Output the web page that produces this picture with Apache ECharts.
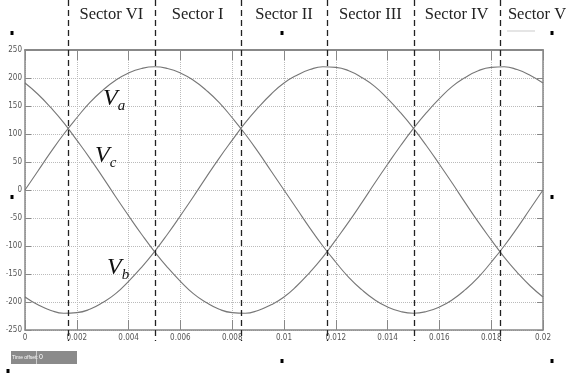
<!DOCTYPE html>
<html>
<head>
<meta charset="utf-8">
<script src="https://cdn.jsdelivr.net/npm/echarts@6/dist/echarts.min.js"></script>
<style>
  html, body { margin: 0; padding: 0; background: #fff; }
  #chart { width: 569px; height: 373px; }
</style>
</head>
<body>
<div id="chart"></div>
<script>
// Sample times (s) over one 50 Hz period
const times = [0, 0.0005, 0.001, 0.0015, 0.002, 0.0025, 0.003, 0.0035, 0.004, 0.0045,
  0.005, 0.0055, 0.006, 0.0065, 0.007, 0.0075, 0.008, 0.0085, 0.009, 0.0095,
  0.01, 0.0105, 0.011, 0.0115, 0.012, 0.0125, 0.013, 0.0135, 0.014, 0.0145,
  0.015, 0.0155, 0.016, 0.0165, 0.017, 0.0175, 0.018, 0.0185, 0.019, 0.0195, 0.02];

// Phase voltages (V)
const va = [0, 34, 68, 100, 129, 156, 178, 196, 209, 217, 220, 217, 209, 196, 178, 156, 129, 100, 68, 34,
  0, -34, -68, -100, -129, -156, -178, -196, -209, -217, -220, -217, -209, -196, -178, -156, -129, -100, -68, -34, 0];
const vb = [-191, -205, -215, -220, -219, -213, -201, -185, -163, -138, -110, -79, -46, -12, 23, 57, 89, 120, 147, 171,
  191, 205, 215, 220, 219, 213, 201, 185, 163, 138, 110, 79, 46, 12, -23, -57, -89, -120, -147, -171, -191];
const vc = [191, 171, 147, 120, 89, 57, 23, -12, -46, -79, -110, -138, -163, -185, -201, -213, -219, -220, -215, -205,
  -191, -171, -147, -120, -89, -57, -23, 12, 46, 79, 110, 138, 163, 185, 201, 213, 219, 220, 215, 205, 191];

// Sector boundaries (s) and names
const sectorBounds = [0.001667, 0.005, 0.008333, 0.011667, 0.015, 0.018333];
const sectorNames = ['Sector VI', 'Sector I', 'Sector II', 'Sector III', 'Sector IV', 'Sector V'];

const toPairs = (ys) => times.map((t, i) => [t, ys[i]]);

const chart = echarts.init(document.getElementById('chart'));
const tickFont = { fontFamily: 'Liberation Sans Narrow, DejaVu Sans Condensed, sans-serif', fontSize: 8, color: '#555' };
const lineStyle = { color: '#777', width: 1.1 };

chart.setOption({
  animation: false,
  grid: { left: 25, right: 26, top: 50, bottom: 43 },
  xAxis: [{
    type: 'value', min: 0, max: 0.02, interval: 0.002,
    axisLine: { onZero: false, lineStyle: { color: '#888', width: 1.5 } },
    axisTick: { inside: true, length: 10, lineStyle: { color: '#888' } },
    axisLabel: Object.assign({ margin: 4, formatter: v => String(+v.toFixed(3)) }, tickFont),
    splitLine: { show: true, lineStyle: { type: 'dotted', color: '#bbb' } }
  }, {
    type: 'value', position: 'top', min: 0, max: 0.02, interval: 0.002,
    axisLine: { show: true, onZero: false, lineStyle: { color: '#888', width: 2 } },
    axisTick: { inside: true, length: 10, lineStyle: { color: '#888' } },
    axisLabel: { show: false }, splitLine: { show: false }
  }],
  yAxis: [{
    type: 'value', min: -250, max: 250, interval: 50,
    axisLine: { show: true, onZero: false, lineStyle: { color: '#888', width: 1.5 } },
    axisTick: { show: true, inside: true, length: 6, lineStyle: { color: '#888' } },
    axisLabel: Object.assign({ margin: 3 }, tickFont),
    splitLine: { show: true, lineStyle: { type: 'dotted', color: '#bbb' } }
  }, {
    type: 'value', position: 'right', min: -250, max: 250, interval: 50,
    axisLine: { show: true, onZero: false, lineStyle: { color: '#888', width: 1.5 } },
    axisTick: { show: true, inside: true, length: 6, lineStyle: { color: '#888' } },
    axisLabel: { show: false }, splitLine: { show: false }
  }],
  series: [
    { name: 'Va', type: 'line', smooth: true, showSymbol: false, data: toPairs(va), lineStyle },
    { name: 'Vb', type: 'line', smooth: true, showSymbol: false, data: toPairs(vb), lineStyle },
    { name: 'Vc', type: 'line', smooth: true, showSymbol: false, data: toPairs(vc), lineStyle }
  ]
});

// Dashed sector boundaries and sector titles, placed through the x scale
const px = (t) => chart.convertToPixel({ xAxisIndex: 0 }, t);
const graphics = [];
sectorBounds.forEach((t) => {
  const x = Math.round(px(t)) + 0.5;
  graphics.push({
    type: 'line', shape: { x1: x, y1: 0, x2: x, y2: 341 },
    style: { stroke: '#222', lineWidth: 1.3, lineDash: [6, 4] }, z: 10
  });
});
const bx = sectorBounds.map(px);
const centers = [];
for (let i = 0; i < bx.length - 1; i++) centers.push((bx[i] + bx[i + 1]) / 2);
centers.push(537);
sectorNames.forEach((name, i) => {
  graphics.push({
    type: 'text', x: centers[i], y: 15,
    style: { text: name, font: '16.5px "Liberation Serif", serif', fill: '#222', align: 'center', verticalAlign: 'middle' }
  });
});

// Phase labels
const phaseLabel = (x, y, sub) => ({
  type: 'text', x: x, y: y,
  style: {
    text: '{v|V}{s|' + sub + '}',
    rich: {
      v: { font: 'italic 24px "Liberation Serif", serif', fill: '#111' },
      s: { font: 'italic 15px "Liberation Serif", serif', fill: '#111', padding: [16, 0, 0, 0] }
    }
  }
});
graphics.push(phaseLabel(103, 83, 'a'));
graphics.push(phaseLabel(95, 140, 'c'));
graphics.push(phaseLabel(107, 252, 'b'));

// Small handle marks around the frame
[[12, 33], [282, 33], [552, 33], [12, 197], [552, 197], [282, 361], [552, 361], [8, 371]].forEach(([x, y]) => {
  graphics.push({ type: 'rect', shape: { x: x - 1.5, y: y - 2, width: 3, height: 4 }, style: { fill: '#000' } });
});
// faint legend stub near the last sector title
graphics.push({ type: 'line', shape: { x1: 507, y1: 31, x2: 535, y2: 31 }, style: { stroke: '#ddd', lineWidth: 1.5 } });

// Time offset box
graphics.push({ type: 'rect', shape: { x: 11, y: 351, width: 66, height: 13 }, style: { fill: '#8a8a8a' } });
graphics.push({ type: 'line', shape: { x1: 36.5, y1: 351, x2: 36.5, y2: 364 }, style: { stroke: '#ccc', lineWidth: 1 } });
graphics.push({ type: 'text', x: 12, y: 357.5, style: { text: 'Time offset:', font: '5px "Liberation Sans Narrow", sans-serif', fill: '#fff', verticalAlign: 'middle' } });
graphics.push({ type: 'text', x: 39, y: 357.5, style: { text: '0', font: '7px "Liberation Sans Narrow", sans-serif', fill: '#fff', verticalAlign: 'middle' } });

chart.setOption({ graphic: graphics });
</script>
</body>
</html>
